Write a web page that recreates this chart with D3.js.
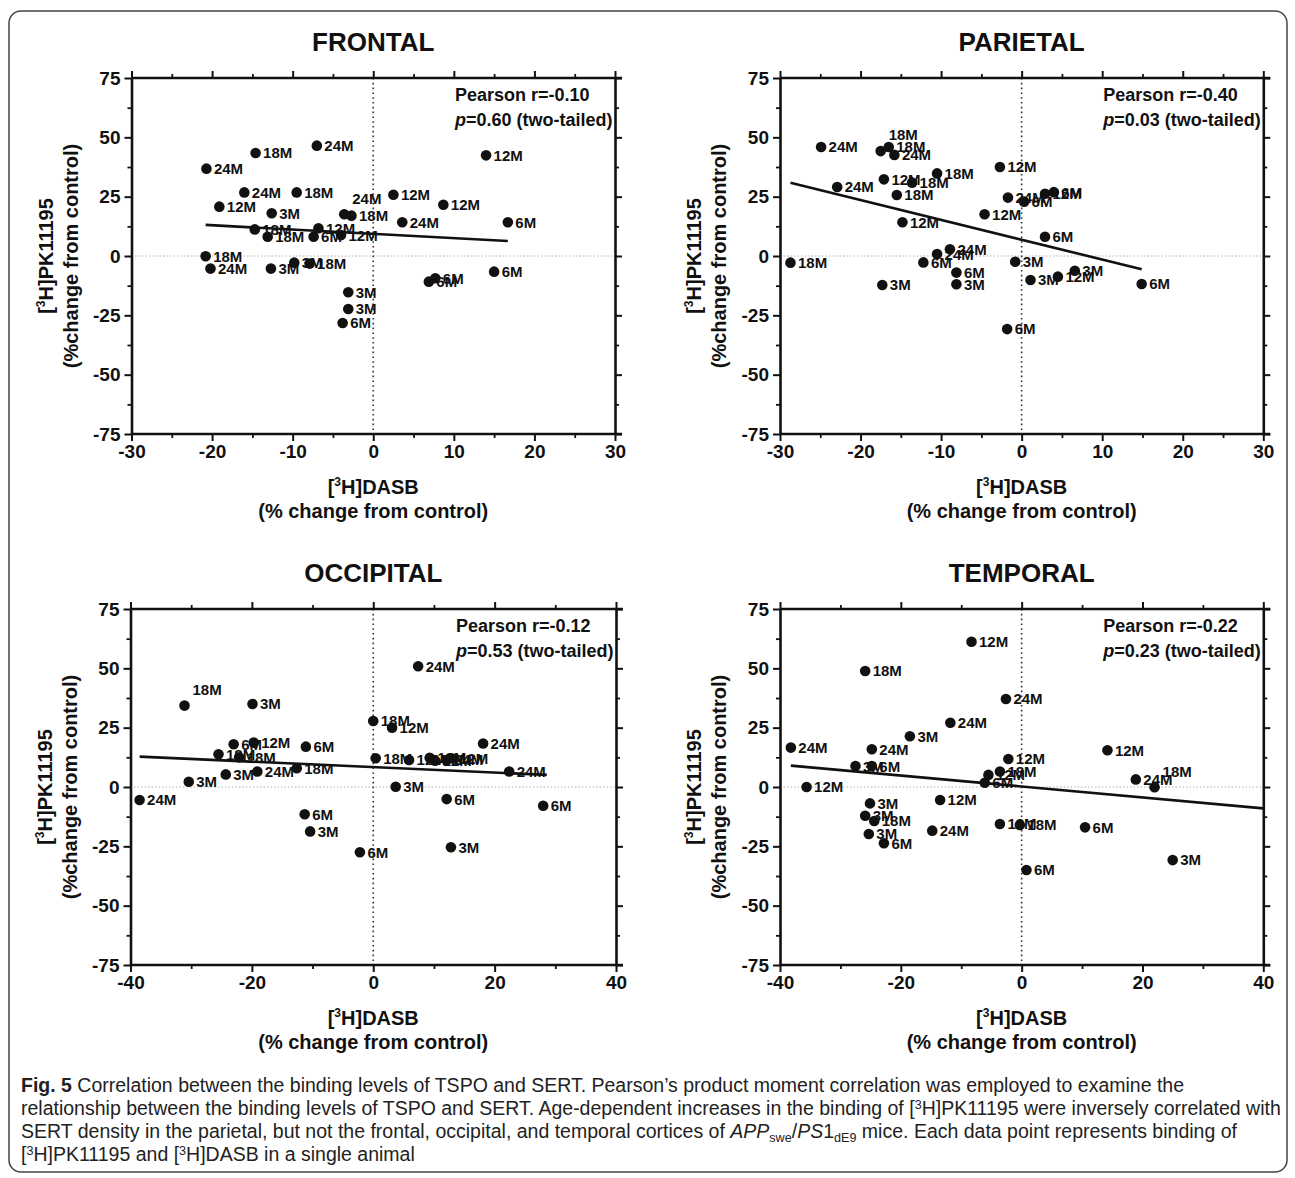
<!DOCTYPE html>
<html>
<head>
<meta charset="utf-8">
<script src="https://cdnjs.cloudflare.com/ajax/libs/d3/7.8.5/d3.min.js"></script>
<style>
  body { margin: 0; background: #fff; }
  svg text { font-family: "Liberation Sans", Arial, sans-serif; fill: #111; }
</style>
</head>
<body>
<svg id="fig" width="1295" height="1178"></svg>
<script>
// ---- data ----
var yDomain = [-75, 75];
var yTicks = [75, 50, 25, 0, -25, -50, -75];
var yMinor = [62.5, 37.5, 12.5, -12.5, -37.5, -62.5];

var narrowDomain = [-30, 30];
var narrowTicks = [-30, -20, -10, 0, 10, 20, 30];
var narrowMinor = [-25, -15, -5, 5, 15, 25];
var wideDomain = [-40, 40];
var wideTicks = [-40, -20, 0, 20, 40];
var wideMinor = [-30, -10, 10, 30];

// [DASB %, PK11195 %, age label, label placement ('a' = above)]
var frontalPoints = [
  [-20.7, 36.8, '24M'], [-14.6, 43.4, '18M'], [-7.0, 46.5, '24M'],
  [-16.0, 26.8, '24M'], [-9.5, 26.8, '18M'], [-19.1, 20.8, '12M'],
  [-12.6, 18.0, '3M'], [-3.6, 17.6, '24M', 'a'], [-2.7, 17.0, '18M'],
  [-14.7, 11.2, '18M'], [-13.1, 8.1, '18M'], [-6.8, 11.7, '12M'],
  [-7.4, 8.1, '6M'], [-4.0, 8.8, '12M'], [-20.8, -0.1, '18M'],
  [-20.2, -5.3, '24M'], [-12.7, -5.3, '3M'], [-9.8, -2.8, '3M'],
  [-7.9, -3.2, '18M'], [-3.1, -15.3, '3M'], [-3.1, -22.3, '3M'],
  [-3.8, -28.2, '6M'], [14.0, 42.4, '12M'], [2.5, 25.8, '12M'],
  [8.7, 21.6, '12M'], [3.6, 14.2, '24M'], [16.7, 14.2, '6M'],
  [15.0, -6.6, '6M'], [6.9, -10.8, '6M'], [7.7, -9.4, '6M']
];
var frontalFit = [[-20.8, 13.1], [16.7, 6.3]];
var frontalStats = ['-0.10', '0.60'];

var parietalPoints = [
  [-24.9, 45.9, '24M'], [-17.5, 44.2, '18M', 'a'], [-16.5, 45.9, '18M'],
  [-15.8, 42.6, '24M'], [-22.9, 29.1, '24M'], [-17.1, 32.3, '12M'],
  [-13.6, 30.9, '18M'], [-10.5, 34.8, '18M'], [-15.5, 25.7, '18M'],
  [-14.8, 14.2, '12M'], [-2.7, 37.5, '12M'], [-1.7, 24.6, '24M'],
  [0.3, 22.9, '6M'], [2.9, 26.2, '12M'], [4.0, 26.9, '6M'],
  [-4.6, 17.6, '12M'], [2.9, 8.1, '6M'], [-28.7, -2.8, '18M'],
  [-10.5, 0.8, '24M'], [-8.9, 2.8, '24M'], [-12.2, -2.7, '6M'],
  [-8.1, -7.0, '6M'], [-8.1, -11.9, '3M'], [-17.3, -12.2, '3M'],
  [-0.8, -2.4, '3M'], [1.1, -10.1, '3M'], [4.5, -8.7, '12M'],
  [6.6, -6.2, '3M'], [14.9, -11.8, '6M'], [-1.8, -30.8, '6M']
];
var parietalFit = [[-28.7, 30.9], [14.9, -5.6]];
var parietalStats = ['-0.40', '0.03'];

var occipitalPoints = [
  [-31.1, 34.3, '18M', 'a'], [-19.9, 35.0, '3M'], [-23.0, 18.0, '6M'],
  [-19.7, 18.7, '12M'], [-25.5, 13.8, '18M'], [-22.1, 12.5, '18M'],
  [-11.1, 17.0, '6M'], [-30.4, 2.2, '3M'], [-24.3, 5.3, '3M'],
  [-19.1, 6.5, '24M'], [-12.6, 7.9, '18M'], [-38.5, -5.5, '24M'],
  [-11.3, -11.5, '6M'], [-10.4, -18.7, '3M'], [-2.2, -27.5, '6M'],
  [0.0, 27.8, '18M'], [0.4, 12.1, '18M'], [3.7, 0.1, '3M'],
  [3.1, 25.0, '12M'], [7.4, 50.9, '24M'], [18.1, 18.3, '24M'],
  [5.9, 11.4, '12M'], [9.3, 12.3, '18M'], [10.2, 11.1, '12M'],
  [12.1, 11.4, '24M'], [12.9, 12.1, '12M'], [22.4, 6.5, '24M'],
  [12.1, -5.1, '6M'], [28.0, -7.9, '6M'], [12.8, -25.4, '3M']
];
var occipitalFit = [[-38.5, 12.8], [28.6, 5.1]];
var occipitalStats = ['-0.12', '0.53'];

var temporalPoints = [
  [-25.9, 48.9, '18M'], [-8.3, 61.2, '12M'], [-2.6, 37.1, '24M'],
  [-11.8, 27.1, '24M'], [-18.5, 21.4, '3M'], [-38.2, 16.6, '24M'],
  [-24.8, 15.9, '24M'], [-27.5, 8.8, '3M'], [-24.8, 8.8, '6M'],
  [-35.6, 0.0, '12M'], [-2.2, 11.8, '12M'], [-3.6, 6.5, '18M'],
  [-5.5, 5.1, '12M'], [-6.1, 1.8, '6M'], [-25.1, -6.9, '3M'],
  [-25.9, -12.1, '3M'], [-24.4, -14.3, '18M'], [-25.3, -19.8, '3M'],
  [-22.8, -23.7, '6M'], [-13.5, -5.5, '12M'], [-14.8, -18.4, '24M'],
  [-3.6, -15.6, '18M'], [-0.3, -16.0, '18M'], [0.8, -35.0, '6M'],
  [14.2, 15.5, '12M'], [18.9, 3.2, '24M'], [22.0, -0.1, '18M', 'a'],
  [10.5, -17.0, '6M'], [25.0, -30.8, '3M']
];
var temporalFit = [[-38.2, 9.0], [40, -9.0]];
var temporalStats = ['-0.22', '0.23'];

// caption, one array per printed line: [text, style]
var captionLines = [
  [['Fig. 5', 'b'], [' Correlation between the binding levels of TSPO and SERT. Pearson\u2019s product moment correlation was employed to examine the', '']],
  [['relationship between the binding levels of TSPO and SERT. Age-dependent increases in the binding of [', ''], ['3', 'sup'], ['H]PK11195 were inversely correlated with', '']],
  [['SERT density in the parietal, but not the frontal, occipital, and temporal cortices of ', ''], ['APP', 'i'], ['swe', 'sub'], ['/', ''], ['PS', 'i'], ['1', ''], ['dE9', 'sub'], [' mice. Each data point represents binding of', '']],
  [['[', ''], ['3', 'sup'], ['H]PK11195 and [', ''], ['3', 'sup'], ['H]DASB in a single animal', '']]
];

// ---- layout ----
var svg = d3.select('#fig');

svg.append('rect')
    .attr('x', 9).attr('y', 11)
    .attr('width', 1278).attr('height', 1161)
    .attr('rx', 12)
    .attr('fill', 'none')
    .attr('stroke', '#444')
    .attr('stroke-width', 1.5);

var panels = [
  {title: 'FRONTAL', points: frontalPoints, fit: frontalFit, stats: frontalStats,
   xDomain: narrowDomain, xTicks: narrowTicks, xMinor: narrowMinor,
   box: {left: 131.5, right: 615, top: 78, bottom: 434}},
  {title: 'PARIETAL', points: parietalPoints, fit: parietalFit, stats: parietalStats,
   xDomain: narrowDomain, xTicks: narrowTicks, xMinor: narrowMinor,
   box: {left: 780, right: 1263.3, top: 78, bottom: 434}},
  {title: 'OCCIPITAL', points: occipitalPoints, fit: occipitalFit, stats: occipitalStats,
   xDomain: wideDomain, xTicks: wideTicks, xMinor: wideMinor,
   box: {left: 130.5, right: 616, top: 609, bottom: 965}},
  {title: 'TEMPORAL', points: temporalPoints, fit: temporalFit, stats: temporalStats,
   xDomain: wideDomain, xTicks: wideTicks, xMinor: wideMinor,
   box: {left: 780, right: 1263.3, top: 609, bottom: 965}}
];

panels.forEach(function(p){ drawPanel(p) });
drawCaption();

function drawPanel(p){
    var b = p.box;
    var x = d3.scaleLinear().domain(p.xDomain).range([b.left, b.right]);
    var y = d3.scaleLinear().domain(yDomain).range([b.bottom, b.top]);
    var g = svg.append('g').attr('class', 'panel');
    var cx = (b.left + b.right) / 2;

    // zero reference lines
    g.append('line')
        .attr('x1', x.range()[0]).attr('x2', x.range()[1])
        .attr('y1', y(0)).attr('y2', y(0))
        .attr('stroke', '#b0b0b0').attr('stroke-width', 1)
        .attr('stroke-dasharray', '1.5,2');
    g.append('line')
        .attr('x1', x(0)).attr('x2', x(0))
        .attr('y1', y(yDomain[1])).attr('y2', y(yDomain[0]))
        .attr('stroke', '#333').attr('stroke-width', 1.6)
        .attr('stroke-dasharray', '1.6,3.2');

    // axes: major + minor on every side, labels only left and bottom
    axisLayer(g, d3.axisLeft(y), 'translate(' + b.left + ',0)', yTicks, yMinor, true);
    axisLayer(g, d3.axisRight(y), 'translate(' + b.right + ',0)', yTicks, yMinor, false);
    var bx = axisLayer(g, d3.axisBottom(x), 'translate(0,' + b.bottom + ')', p.xTicks, p.xMinor, true);
    var tx = axisLayer(g, d3.axisTop(x), 'translate(0,' + b.top + ')', p.xTicks, p.xMinor, false);
    // the horizontal frame lines run a little past the right axis
    bx.select('.domain').attr('d', 'M' + b.left + ',0H' + (b.right + 7));
    tx.select('.domain').attr('d', 'M' + b.left + ',0H' + (b.right + 7));

    // regression line
    var line = d3.line()
        .x(function(d){ return x(d[0]) })
        .y(function(d){ return y(d[1]) });
    g.append('path')
        .datum(p.fit)
        .attr('d', line)
        .attr('fill', 'none')
        .attr('stroke', '#111')
        .attr('stroke-width', 2.6);

    // dots
    g.selectAll('.dot')
      .data(p.points)
      .enter().append('circle')
        .attr('class', 'dot')
        .attr('cx', function(d){ return x(d[0]) })
        .attr('cy', function(d){ return y(d[1]) })
        .attr('r', 5.3)
        .attr('fill', '#111');

    // age labels
    g.selectAll('.age')
      .data(p.points)
      .enter().append('text')
        .attr('class', 'age')
        .attr('x', function(d){ return x(d[0]) + (d[3] === 'a' ? 8 : 7.5) })
        .attr('y', function(d){ return y(d[1]) + (d[3] === 'a' ? -16 : 0) })
        .attr('dy', '0.36em')
        .attr('font-size', 15)
        .attr('font-weight', 'bold')
        .text(function(d){ return d[2] });

    // title
    g.append('text')
        .attr('x', cx).attr('y', b.top - 27)
        .attr('text-anchor', 'middle')
        .attr('font-size', 26)
        .attr('font-weight', 'bold')
        .text(p.title);

    // correlation stats
    var sx = b.right - 160;
    g.append('text')
        .attr('x', sx).attr('y', b.top + 23)
        .attr('font-size', 18).attr('font-weight', 'bold')
        .text('Pearson r=' + p.stats[0]);
    var t2 = g.append('text')
        .attr('x', sx).attr('y', b.top + 48)
        .attr('font-size', 18).attr('font-weight', 'bold');
    t2.append('tspan').attr('font-style', 'italic').text('p');
    t2.append('tspan').text('=' + p.stats[1] + ' (two-tailed)');

    // x axis title
    var xt = g.append('text')
        .attr('x', cx).attr('y', b.bottom + 60)
        .attr('text-anchor', 'middle')
        .attr('font-size', 20).attr('font-weight', 'bold');
    isotope(xt, 'DASB');
    g.append('text')
        .attr('x', cx).attr('y', b.bottom + 84)
        .attr('text-anchor', 'middle')
        .attr('font-size', 20).attr('font-weight', 'bold')
        .text('(% change from control)');

    // y axis title
    var cy = (b.top + b.bottom) / 2;
    var yt = g.append('text')
        .attr('transform', 'translate(' + (b.left - 79) + ',' + cy + ') rotate(-90)')
        .attr('text-anchor', 'middle')
        .attr('font-size', 20).attr('font-weight', 'bold');
    isotope(yt, 'PK11195');
    g.append('text')
        .attr('transform', 'translate(' + (b.left - 54) + ',' + cy + ') rotate(-90)')
        .attr('text-anchor', 'middle')
        .attr('font-size', 20).attr('font-weight', 'bold')
        .text('(%change from control)');
} // end drawPanel

// [3H]name with a raised 3
function isotope(sel, name){
    sel.append('tspan').text('[');
    sel.append('tspan').attr('font-size', 12).attr('dy', -8).text('3');
    sel.append('tspan').attr('dy', 8).text('H]' + name);
}

function axisLayer(g, axis, transform, major, minor, labels){
    var fmt = labels ? function(d){ return String(d) } : function(){ return '' };
    var a = g.append('g')
        .attr('transform', transform)
        .call(axis.tickValues(major).tickSize(7).tickSizeOuter(0).tickPadding(4).tickFormat(fmt));
    a.attr('font-family', null).attr('font-size', 19).attr('font-weight', 'bold');
    a.select('.domain').attr('stroke', '#111').attr('stroke-width', 2.6);
    a.selectAll('.tick line').attr('stroke', '#111').attr('stroke-width', 2);
    a.selectAll('.tick text').attr('fill', '#111');

    var m = g.append('g')
        .attr('transform', transform)
        .call(axis.tickValues(minor).tickSize(4).tickFormat(function(){ return '' }));
    m.select('.domain').remove();
    m.selectAll('.tick line').attr('stroke', '#111').attr('stroke-width', 1.8);
    return a;
}

function drawCaption(){
    var cap = svg.append('g').attr('class', 'caption');
    var texts = [];
    captionLines.forEach(function(segs, i){
        var t = cap.append('text')
            .attr('x', 21).attr('y', 1092 + i * 23)
            .attr('font-size', 17)
            .style('fill', '#222');
        var shift = 0;
        segs.forEach(function(s){
            var sp = t.append('tspan').text(s[0]);
            var want = s[1] === 'sup' ? -6 : (s[1] === 'sub' ? 4 : 0);
            if (want !== shift) { sp.attr('dy', want - shift); shift = want; }
            if (s[1] === 'b') sp.attr('font-weight', 'bold');
            if (s[1] === 'i') sp.attr('font-style', 'italic');
            if (s[1] === 'sup' || s[1] === 'sub') sp.attr('font-size', 11);
        });
        texts.push(t);
    });
    // fit the first line to its printed width
    var w = texts[0].node().getComputedTextLength();
    var k = 1164 / w;
    texts.forEach(function(t){ t.attr('font-size', 17 * k) });
    cap.selectAll('tspan').filter(function(){ return d3.select(this).attr('font-size') })
        .attr('font-size', 11 * k);
}
</script>
</body>
</html>
